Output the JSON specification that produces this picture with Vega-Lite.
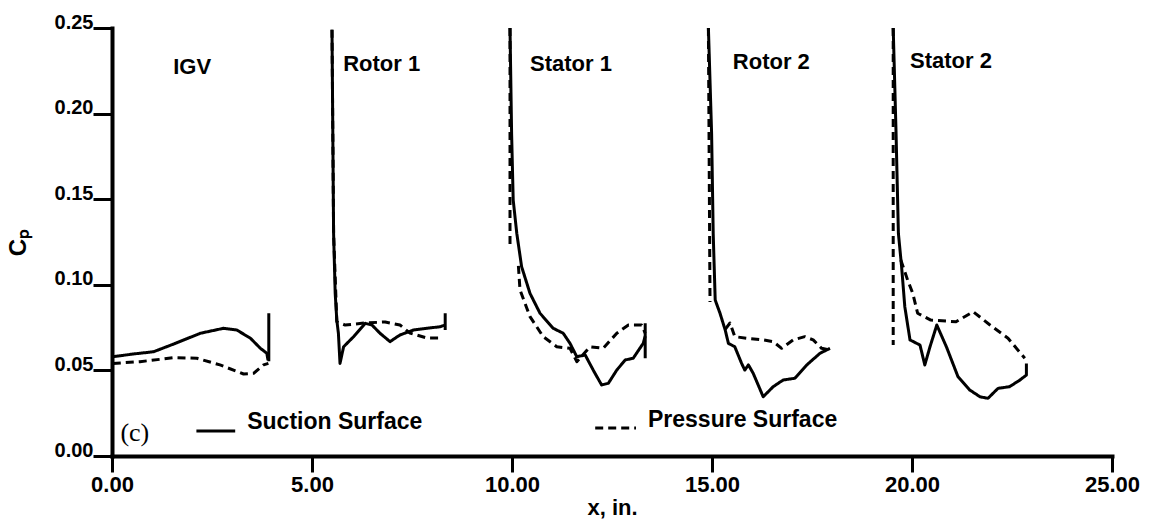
{
  "$schema": "https://vega.github.io/schema/vega-lite/v6.json",
  "width": 1000,
  "height": 428,
  "autosize": "none",
  "padding": {"left": 112, "top": 28, "right": 39, "bottom": 63},
  "background": "white",
  "config": {"view": {"stroke": null}},
  "datasets": {
    "curves": [
      {"seg": "IGV-S", "surface": "Suction Surface", "i": 1, "x": 0.02, "cp": 0.058},
      {"seg": "IGV-S", "surface": "Suction Surface", "i": 2, "x": 0.54, "cp": 0.0596},
      {"seg": "IGV-S", "surface": "Suction Surface", "i": 3, "x": 1.04, "cp": 0.0609},
      {"seg": "IGV-S", "surface": "Suction Surface", "i": 4, "x": 1.54, "cp": 0.0654},
      {"seg": "IGV-S", "surface": "Suction Surface", "i": 5, "x": 2.21, "cp": 0.0717},
      {"seg": "IGV-S", "surface": "Suction Surface", "i": 6, "x": 2.79, "cp": 0.0746},
      {"seg": "IGV-S", "surface": "Suction Surface", "i": 7, "x": 3.12, "cp": 0.0736},
      {"seg": "IGV-S", "surface": "Suction Surface", "i": 8, "x": 3.46, "cp": 0.0688},
      {"seg": "IGV-S", "surface": "Suction Surface", "i": 9, "x": 3.71, "cp": 0.0629},
      {"seg": "IGV-S", "surface": "Suction Surface", "i": 10, "x": 3.87, "cp": 0.06},
      {"seg": "IGV-S", "surface": "Suction Surface", "i": 11, "x": 3.9, "cp": 0.056},
      {"seg": "IGV-TE", "surface": "Suction Surface", "i": 1, "x": 3.92, "cp": 0.0834},
      {"seg": "IGV-TE", "surface": "Suction Surface", "i": 2, "x": 3.92, "cp": 0.0553},
      {"seg": "IGV-P", "surface": "Pressure Surface", "i": 1, "x": 0.02, "cp": 0.0541},
      {"seg": "IGV-P", "surface": "Pressure Surface", "i": 2, "x": 0.7, "cp": 0.0551},
      {"seg": "IGV-P", "surface": "Pressure Surface", "i": 3, "x": 1.54, "cp": 0.0574},
      {"seg": "IGV-P", "surface": "Pressure Surface", "i": 4, "x": 2.12, "cp": 0.0571},
      {"seg": "IGV-P", "surface": "Pressure Surface", "i": 5, "x": 2.7, "cp": 0.0532},
      {"seg": "IGV-P", "surface": "Pressure Surface", "i": 6, "x": 3.29, "cp": 0.0479},
      {"seg": "IGV-P", "surface": "Pressure Surface", "i": 7, "x": 3.54, "cp": 0.0483},
      {"seg": "IGV-P", "surface": "Pressure Surface", "i": 8, "x": 3.79, "cp": 0.0532},
      {"seg": "IGV-P", "surface": "Pressure Surface", "i": 9, "x": 3.91, "cp": 0.0541},

      {"seg": "R1-S", "surface": "Suction Surface", "i": 1, "x": 5.5, "cp": 0.249},
      {"seg": "R1-S", "surface": "Suction Surface", "i": 2, "x": 5.54, "cp": 0.13},
      {"seg": "R1-S", "surface": "Suction Surface", "i": 3, "x": 5.58, "cp": 0.095},
      {"seg": "R1-S", "surface": "Suction Surface", "i": 4, "x": 5.62, "cp": 0.0794},
      {"seg": "R1-S", "surface": "Suction Surface", "i": 5, "x": 5.66, "cp": 0.0717},
      {"seg": "R1-S", "surface": "Suction Surface", "i": 6, "x": 5.7, "cp": 0.0541},
      {"seg": "R1-S", "surface": "Suction Surface", "i": 7, "x": 5.79, "cp": 0.0638},
      {"seg": "R1-S", "surface": "Suction Surface", "i": 8, "x": 6.04, "cp": 0.0697},
      {"seg": "R1-S", "surface": "Suction Surface", "i": 9, "x": 6.33, "cp": 0.0775},
      {"seg": "R1-S", "surface": "Suction Surface", "i": 10, "x": 6.5, "cp": 0.0765},
      {"seg": "R1-S", "surface": "Suction Surface", "i": 11, "x": 6.7, "cp": 0.0717},
      {"seg": "R1-S", "surface": "Suction Surface", "i": 12, "x": 6.95, "cp": 0.0668},
      {"seg": "R1-S", "surface": "Suction Surface", "i": 13, "x": 7.2, "cp": 0.0707},
      {"seg": "R1-S", "surface": "Suction Surface", "i": 14, "x": 7.54, "cp": 0.0736},
      {"seg": "R1-S", "surface": "Suction Surface", "i": 15, "x": 7.87, "cp": 0.0746},
      {"seg": "R1-S", "surface": "Suction Surface", "i": 16, "x": 8.2, "cp": 0.0755},
      {"seg": "R1-S", "surface": "Suction Surface", "i": 17, "x": 8.33, "cp": 0.0765},
      {"seg": "R1-TE", "surface": "Suction Surface", "i": 1, "x": 8.33, "cp": 0.0834},
      {"seg": "R1-TE", "surface": "Suction Surface", "i": 2, "x": 8.33, "cp": 0.0736},
      {"seg": "R1-P", "surface": "Pressure Surface", "i": 1, "x": 5.5, "cp": 0.249},
      {"seg": "R1-P", "surface": "Pressure Surface", "i": 2, "x": 5.54, "cp": 0.13},
      {"seg": "R1-P", "surface": "Pressure Surface", "i": 3, "x": 5.62, "cp": 0.0784},
      {"seg": "R1-P", "surface": "Pressure Surface", "i": 4, "x": 5.83, "cp": 0.0765},
      {"seg": "R1-P", "surface": "Pressure Surface", "i": 5, "x": 6.33, "cp": 0.0777},
      {"seg": "R1-P", "surface": "Pressure Surface", "i": 6, "x": 6.83, "cp": 0.0783},
      {"seg": "R1-P", "surface": "Pressure Surface", "i": 7, "x": 7.2, "cp": 0.0765},
      {"seg": "R1-P", "surface": "Pressure Surface", "i": 8, "x": 7.45, "cp": 0.0718},
      {"seg": "R1-P", "surface": "Pressure Surface", "i": 9, "x": 7.88, "cp": 0.0689},
      {"seg": "R1-P", "surface": "Pressure Surface", "i": 10, "x": 8.25, "cp": 0.0689},

      {"seg": "S1-S", "surface": "Suction Surface", "i": 1, "x": 9.95, "cp": 0.25},
      {"seg": "S1-S", "surface": "Suction Surface", "i": 2, "x": 9.99, "cp": 0.1885},
      {"seg": "S1-S", "surface": "Suction Surface", "i": 3, "x": 10.03, "cp": 0.1495},
      {"seg": "S1-S", "surface": "Suction Surface", "i": 4, "x": 10.12, "cp": 0.13},
      {"seg": "S1-S", "surface": "Suction Surface", "i": 5, "x": 10.24, "cp": 0.1106},
      {"seg": "S1-S", "surface": "Suction Surface", "i": 6, "x": 10.45, "cp": 0.095},
      {"seg": "S1-S", "surface": "Suction Surface", "i": 7, "x": 10.7, "cp": 0.0834},
      {"seg": "S1-S", "surface": "Suction Surface", "i": 8, "x": 11.03, "cp": 0.0746},
      {"seg": "S1-S", "surface": "Suction Surface", "i": 9, "x": 11.28, "cp": 0.0717},
      {"seg": "S1-S", "surface": "Suction Surface", "i": 10, "x": 11.45, "cp": 0.0658},
      {"seg": "S1-S", "surface": "Suction Surface", "i": 11, "x": 11.62, "cp": 0.058},
      {"seg": "S1-S", "surface": "Suction Surface", "i": 12, "x": 11.83, "cp": 0.059},
      {"seg": "S1-S", "surface": "Suction Surface", "i": 13, "x": 12.03, "cp": 0.0502},
      {"seg": "S1-S", "surface": "Suction Surface", "i": 14, "x": 12.24, "cp": 0.0415},
      {"seg": "S1-S", "surface": "Suction Surface", "i": 15, "x": 12.41, "cp": 0.0425},
      {"seg": "S1-S", "surface": "Suction Surface", "i": 16, "x": 12.62, "cp": 0.0502},
      {"seg": "S1-S", "surface": "Suction Surface", "i": 17, "x": 12.83, "cp": 0.0561},
      {"seg": "S1-S", "surface": "Suction Surface", "i": 18, "x": 13.03, "cp": 0.0571},
      {"seg": "S1-S", "surface": "Suction Surface", "i": 19, "x": 13.28, "cp": 0.0658},
      {"seg": "S1-S", "surface": "Suction Surface", "i": 20, "x": 13.33, "cp": 0.07},
      {"seg": "S1-TE", "surface": "Suction Surface", "i": 1, "x": 13.33, "cp": 0.0775},
      {"seg": "S1-TE", "surface": "Suction Surface", "i": 2, "x": 13.33, "cp": 0.0571},
      {"seg": "S1-P1", "surface": "Pressure Surface", "i": 1, "x": 9.95, "cp": 0.25},
      {"seg": "S1-P1", "surface": "Pressure Surface", "i": 2, "x": 9.95, "cp": 0.122},
      {"seg": "S1-P2", "surface": "Pressure Surface", "i": 1, "x": 10.16, "cp": 0.111},
      {"seg": "S1-P2", "surface": "Pressure Surface", "i": 2, "x": 10.2, "cp": 0.097},
      {"seg": "S1-P2", "surface": "Pressure Surface", "i": 3, "x": 10.45, "cp": 0.0814},
      {"seg": "S1-P2", "surface": "Pressure Surface", "i": 4, "x": 10.78, "cp": 0.0697},
      {"seg": "S1-P2", "surface": "Pressure Surface", "i": 5, "x": 11.12, "cp": 0.0638},
      {"seg": "S1-P2", "surface": "Pressure Surface", "i": 6, "x": 11.45, "cp": 0.0629},
      {"seg": "S1-P2", "surface": "Pressure Surface", "i": 7, "x": 11.62, "cp": 0.0551},
      {"seg": "S1-P2", "surface": "Pressure Surface", "i": 8, "x": 11.95, "cp": 0.0638},
      {"seg": "S1-P2", "surface": "Pressure Surface", "i": 9, "x": 12.28, "cp": 0.0629},
      {"seg": "S1-P2", "surface": "Pressure Surface", "i": 10, "x": 12.62, "cp": 0.0717},
      {"seg": "S1-P2", "surface": "Pressure Surface", "i": 11, "x": 12.91, "cp": 0.0765},
      {"seg": "S1-P2", "surface": "Pressure Surface", "i": 12, "x": 13.24, "cp": 0.0765},
      {"seg": "S1-P2", "surface": "Pressure Surface", "i": 13, "x": 13.33, "cp": 0.0717},

      {"seg": "R2-S", "surface": "Suction Surface", "i": 1, "x": 14.91, "cp": 0.25},
      {"seg": "R2-S", "surface": "Suction Surface", "i": 2, "x": 14.99, "cp": 0.1885},
      {"seg": "R2-S", "surface": "Suction Surface", "i": 3, "x": 15.03, "cp": 0.13},
      {"seg": "R2-S", "surface": "Suction Surface", "i": 4, "x": 15.08, "cp": 0.0911},
      {"seg": "R2-S", "surface": "Suction Surface", "i": 5, "x": 15.2, "cp": 0.0834},
      {"seg": "R2-S", "surface": "Suction Surface", "i": 6, "x": 15.33, "cp": 0.0736},
      {"seg": "R2-S", "surface": "Suction Surface", "i": 7, "x": 15.41, "cp": 0.0658},
      {"seg": "R2-S", "surface": "Suction Surface", "i": 8, "x": 15.57, "cp": 0.0638},
      {"seg": "R2-S", "surface": "Suction Surface", "i": 9, "x": 15.74, "cp": 0.0541},
      {"seg": "R2-S", "surface": "Suction Surface", "i": 10, "x": 15.82, "cp": 0.0502},
      {"seg": "R2-S", "surface": "Suction Surface", "i": 11, "x": 15.91, "cp": 0.0532},
      {"seg": "R2-S", "surface": "Suction Surface", "i": 12, "x": 16.03, "cp": 0.0483},
      {"seg": "R2-S", "surface": "Suction Surface", "i": 13, "x": 16.28, "cp": 0.0346},
      {"seg": "R2-S", "surface": "Suction Surface", "i": 14, "x": 16.53, "cp": 0.0405},
      {"seg": "R2-S", "surface": "Suction Surface", "i": 15, "x": 16.78, "cp": 0.0444},
      {"seg": "R2-S", "surface": "Suction Surface", "i": 16, "x": 17.07, "cp": 0.0454},
      {"seg": "R2-S", "surface": "Suction Surface", "i": 17, "x": 17.37, "cp": 0.0532},
      {"seg": "R2-S", "surface": "Suction Surface", "i": 18, "x": 17.7, "cp": 0.06},
      {"seg": "R2-S", "surface": "Suction Surface", "i": 19, "x": 17.95, "cp": 0.0629},
      {"seg": "R2-P1", "surface": "Pressure Surface", "i": 1, "x": 14.91, "cp": 0.25},
      {"seg": "R2-P1", "surface": "Pressure Surface", "i": 2, "x": 14.95, "cp": 0.09},
      {"seg": "R2-P2", "surface": "Pressure Surface", "i": 1, "x": 15.33, "cp": 0.074},
      {"seg": "R2-P2", "surface": "Pressure Surface", "i": 2, "x": 15.45, "cp": 0.0777},
      {"seg": "R2-P2", "surface": "Pressure Surface", "i": 3, "x": 15.57, "cp": 0.0697},
      {"seg": "R2-P2", "surface": "Pressure Surface", "i": 4, "x": 15.87, "cp": 0.0688},
      {"seg": "R2-P2", "surface": "Pressure Surface", "i": 5, "x": 16.28, "cp": 0.0678},
      {"seg": "R2-P2", "surface": "Pressure Surface", "i": 6, "x": 16.53, "cp": 0.0668},
      {"seg": "R2-P2", "surface": "Pressure Surface", "i": 7, "x": 16.74, "cp": 0.0629},
      {"seg": "R2-P2", "surface": "Pressure Surface", "i": 8, "x": 17.03, "cp": 0.0678},
      {"seg": "R2-P2", "surface": "Pressure Surface", "i": 9, "x": 17.32, "cp": 0.0697},
      {"seg": "R2-P2", "surface": "Pressure Surface", "i": 10, "x": 17.53, "cp": 0.0678},
      {"seg": "R2-P2", "surface": "Pressure Surface", "i": 11, "x": 17.74, "cp": 0.0629},
      {"seg": "R2-P2", "surface": "Pressure Surface", "i": 12, "x": 17.95, "cp": 0.0619},

      {"seg": "S2-S", "surface": "Suction Surface", "i": 1, "x": 19.53, "cp": 0.25},
      {"seg": "S2-S", "surface": "Suction Surface", "i": 2, "x": 19.6, "cp": 0.19},
      {"seg": "S2-S", "surface": "Suction Surface", "i": 3, "x": 19.66, "cp": 0.13},
      {"seg": "S2-S", "surface": "Suction Surface", "i": 4, "x": 19.74, "cp": 0.1106},
      {"seg": "S2-S", "surface": "Suction Surface", "i": 5, "x": 19.82, "cp": 0.0872},
      {"seg": "S2-S", "surface": "Suction Surface", "i": 6, "x": 19.95, "cp": 0.0678},
      {"seg": "S2-S", "surface": "Suction Surface", "i": 7, "x": 20.2, "cp": 0.0648},
      {"seg": "S2-S", "surface": "Suction Surface", "i": 8, "x": 20.32, "cp": 0.0532},
      {"seg": "S2-S", "surface": "Suction Surface", "i": 9, "x": 20.45, "cp": 0.0638},
      {"seg": "S2-S", "surface": "Suction Surface", "i": 10, "x": 20.62, "cp": 0.0765},
      {"seg": "S2-S", "surface": "Suction Surface", "i": 11, "x": 20.86, "cp": 0.0638},
      {"seg": "S2-S", "surface": "Suction Surface", "i": 12, "x": 21.15, "cp": 0.0463},
      {"seg": "S2-S", "surface": "Suction Surface", "i": 13, "x": 21.44, "cp": 0.0386},
      {"seg": "S2-S", "surface": "Suction Surface", "i": 14, "x": 21.7, "cp": 0.0346},
      {"seg": "S2-S", "surface": "Suction Surface", "i": 15, "x": 21.9, "cp": 0.0337},
      {"seg": "S2-S", "surface": "Suction Surface", "i": 16, "x": 22.15, "cp": 0.0395},
      {"seg": "S2-S", "surface": "Suction Surface", "i": 17, "x": 22.44, "cp": 0.0405},
      {"seg": "S2-S", "surface": "Suction Surface", "i": 18, "x": 22.7, "cp": 0.0444},
      {"seg": "S2-S", "surface": "Suction Surface", "i": 19, "x": 22.86, "cp": 0.0473},
      {"seg": "S2-S", "surface": "Suction Surface", "i": 20, "x": 22.86, "cp": 0.0541},
      {"seg": "S2-P1", "surface": "Pressure Surface", "i": 1, "x": 19.53, "cp": 0.25},
      {"seg": "S2-P1", "surface": "Pressure Surface", "i": 2, "x": 19.53, "cp": 0.0648},
      {"seg": "S2-P2", "surface": "Pressure Surface", "i": 1, "x": 19.72, "cp": 0.1145},
      {"seg": "S2-P2", "surface": "Pressure Surface", "i": 2, "x": 19.89, "cp": 0.1028},
      {"seg": "S2-P2", "surface": "Pressure Surface", "i": 3, "x": 20.02, "cp": 0.095},
      {"seg": "S2-P2", "surface": "Pressure Surface", "i": 4, "x": 20.14, "cp": 0.0834},
      {"seg": "S2-P2", "surface": "Pressure Surface", "i": 5, "x": 20.47, "cp": 0.0794},
      {"seg": "S2-P2", "surface": "Pressure Surface", "i": 6, "x": 21.1, "cp": 0.0784},
      {"seg": "S2-P2", "surface": "Pressure Surface", "i": 7, "x": 21.53, "cp": 0.0843},
      {"seg": "S2-P2", "surface": "Pressure Surface", "i": 8, "x": 21.95, "cp": 0.0765},
      {"seg": "S2-P2", "surface": "Pressure Surface", "i": 9, "x": 22.4, "cp": 0.0688},
      {"seg": "S2-P2", "surface": "Pressure Surface", "i": 10, "x": 22.82, "cp": 0.0571}
    ],
    "stages": [
      {"name": "IGV", "x": 1.53, "cp": 0.227},
      {"name": "Rotor 1", "x": 5.78, "cp": 0.229},
      {"name": "Stator 1", "x": 10.45, "cp": 0.229},
      {"name": "Rotor 2", "x": 15.52, "cp": 0.23},
      {"name": "Stator 2", "x": 19.95, "cp": 0.231}
    ],
    "key": [
      {"surface": "Suction Surface", "x": 2.11, "x2": 3.08, "cp": 0.0146, "tx": 3.38, "tcp": 0.0199},
      {"surface": "Pressure Surface", "x": 12.08, "x2": 13.1, "cp": 0.0164, "tx": 13.4, "tcp": 0.021}
    ],
    "panel": [
      {"tag": "(c)", "x": 0.21, "cp": 0.0134}
    ]
  },
  "layer": [
    {
      "data": {"name": "curves"},
      "mark": {"type": "line", "color": "black", "strokeWidth": 3, "strokeCap": "butt", "strokeJoin": "round", "clip": true},
      "encoding": {
        "x": {
          "field": "x", "type": "quantitative",
          "scale": {"domain": [0, 25], "nice": false, "zero": false},
          "axis": {
            "values": [0, 5, 10, 15, 20, 25], "format": ".2f", "title": "x, in.",
            "grid": false, "domainWidth": 4, "domainColor": "black", "domainCap": "square",
            "tickWidth": 3, "tickSize": 16, "tickColor": "black",
            "labelFont": "Liberation Sans", "labelFontWeight": "bold", "labelFontSize": 22, "labelColor": "black",
            "labelPadding": 2, "labelFlush": false, "labelOverlap": false,
            "titleFont": "Liberation Sans", "titleFontWeight": "bold", "titleFontSize": 22, "titleColor": "black",
            "titlePadding": 2
          }
        },
        "y": {
          "field": "cp", "type": "quantitative",
          "scale": {"domain": [0, 0.25], "nice": false},
          "axis": {
            "values": [0, 0.05, 0.1, 0.15, 0.2, 0.25], "format": ".2f", "title": "Cₚ",
            "grid": false, "domainWidth": 4, "domainColor": "black", "domainCap": "square",
            "tickWidth": 3, "tickSize": 19, "tickColor": "black",
            "labelFont": "Liberation Sans", "labelFontWeight": "bold", "labelFontSize": 20, "labelColor": "black",
            "labelPadding": 0, "labelBaseline": "alphabetic", "labelFlush": false, "labelOverlap": false,
            "titleFont": "Liberation Sans", "titleFontWeight": "bold", "titleFontSize": 24, "titleColor": "black",
            "titlePadding": 24
          }
        },
        "detail": {"field": "seg"},
        "order": {"field": "i", "type": "quantitative"},
        "strokeDash": {
          "field": "surface", "type": "nominal",
          "scale": {"domain": ["Suction Surface", "Pressure Surface"], "range": [[1, 0], [8, 5]]},
          "legend": null
        }
      }
    },
    {
      "data": {"name": "stages"},
      "mark": {"type": "text", "align": "left", "baseline": "middle", "font": "Liberation Sans", "fontWeight": "bold", "fontSize": 22, "color": "black"},
      "encoding": {
        "x": {"field": "x", "type": "quantitative"},
        "y": {"field": "cp", "type": "quantitative"},
        "text": {"field": "name"}
      }
    },
    {
      "data": {"name": "key"},
      "mark": {"type": "rule", "color": "black", "strokeWidth": 3},
      "encoding": {
        "x": {"field": "x", "type": "quantitative"},
        "x2": {"field": "x2"},
        "y": {"field": "cp", "type": "quantitative"},
        "strokeDash": {"field": "surface", "type": "nominal", "legend": null}
      }
    },
    {
      "data": {"name": "key"},
      "mark": {"type": "text", "align": "left", "baseline": "middle", "font": "Liberation Sans", "fontWeight": "bold", "fontSize": 23, "color": "black"},
      "encoding": {
        "x": {"field": "tx", "type": "quantitative"},
        "y": {"field": "tcp", "type": "quantitative"},
        "text": {"field": "surface"}
      }
    },
    {
      "data": {"name": "panel"},
      "mark": {"type": "text", "align": "left", "baseline": "middle", "font": "Liberation Serif", "fontSize": 26, "color": "black"},
      "encoding": {
        "x": {"field": "x", "type": "quantitative"},
        "y": {"field": "cp", "type": "quantitative"},
        "text": {"field": "tag"}
      }
    }
  ]
}
